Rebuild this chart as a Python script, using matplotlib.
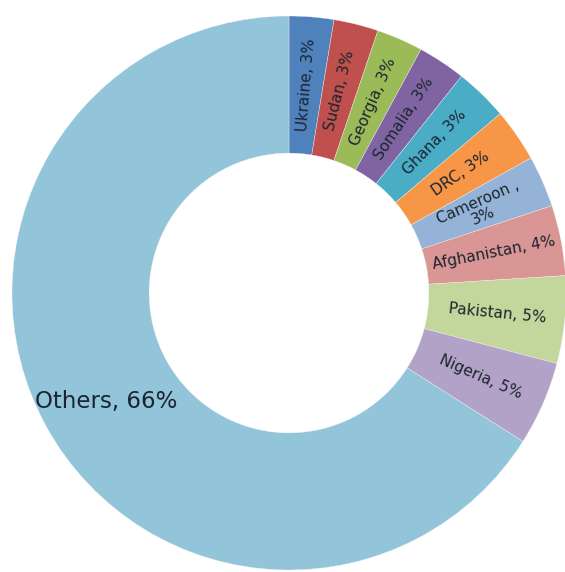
import matplotlib
matplotlib.use("Agg")
import matplotlib.pyplot as plt
import numpy as np

countries = ["Ukraine", "Sudan", "Georgia", "Somalia", "Ghana", "DRC",
             "Cameroon", "Afghanistan", "Pakistan", "Nigeria", "Others"]
shares = [2.6, 2.6, 2.7, 2.8, 3.1, 3.1, 3.0, 4.1, 5.1, 4.9, 66.0]
pct_labels = ["3%", "3%", "3%", "3%", "3%", "3%", "3%", "4%", "5%", "5%", "66%"]
colors = ["#4F81BD", "#C0504D", "#9BBB59", "#8064A2", "#4BACC6", "#F79646",
          "#95B3D7", "#D99694", "#C3D69B", "#B3A2C7", "#92C4DA"]

W, H = 565, 572
fig = plt.figure(figsize=(W / 100, H / 100), dpi=100)
R = 277
cx, cy = 289, 293
ax = fig.add_axes([(cx - R) / W, (H - cy - R) / H, 2 * R / W, 2 * R / H])

wedges, _ = ax.pie(shares, colors=colors, startangle=90, counterclock=False,
                   radius=1.0, wedgeprops=dict(width=0.495, edgecolor="#f4f4f4",
                                               linewidth=0.25))
ax.set_xlim(-1, 1)
ax.set_ylim(-1, 1)
ax.set_aspect("equal")
ax.axis("off")

label_r = 0.755
for w, name, pct in zip(wedges, countries, pct_labels):
    mid = (w.theta1 + w.theta2) / 2.0
    mid = (mid + 180) % 360 - 180
    x = label_r * np.cos(np.deg2rad(mid))
    y = label_r * np.sin(np.deg2rad(mid))
    if name == "Others":
        ax.text(x, y - 0.028, f"{name}, {pct}", ha="center", va="center",
                fontsize=16.5, color="#1b2530")
    else:
        if name == "Cameroon":
            txt = f"{name} ,\n{pct}"
        else:
            txt = f"{name}, {pct}"
        ax.text(x, y, txt, ha="center", va="center", rotation=mid,
                rotation_mode="anchor", fontsize=11, color="#1b2530",
                linespacing=1.0)

fig.savefig("out.png", dpi=100, facecolor="white")
